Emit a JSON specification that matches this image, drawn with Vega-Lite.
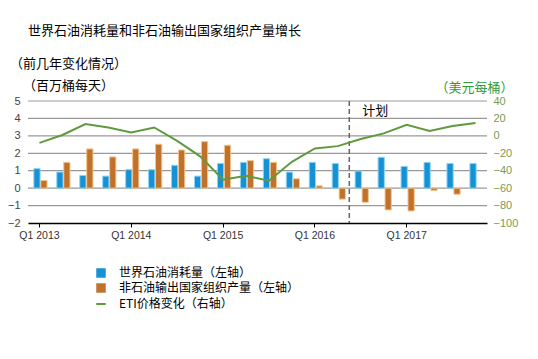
{
  "$schema": "https://vega.github.io/schema/vega-lite/v6.json",
  "width": 459,
  "height": 122,
  "autosize": {"type": "none"},
  "padding": {"left": 28, "top": 101, "right": 51, "bottom": 136},
  "background": "white",
  "config": {
    "view": {"stroke": null},
    "font": "Noto Sans CJK SC",
    "legend": {"labelFont": "Noto Sans CJK SC", "labelFontSize": 12, "labelColor": "#000", "rowPadding": 3, "labelOffset": 12, "padding": 0, "labelLimit": 400}
  },
  "title": {
    "text": "世界石油消耗量和非石油输出国家组织产量增长",
    "anchor": "start",
    "frame": "group",
    "offset": 19,
    "font": "Noto Sans CJK SC",
    "fontSize": 13,
    "fontWeight": "normal",
    "color": "#000"
  },
  "datasets": {
    "bars": [
      {"q": "Q1 2013", "series": "世界石油消耗量（左轴）", "value": 1.12},
      {"q": "Q1 2013", "series": "非石油输出国家组织产量（左轴）", "value": 0.44},
      {"q": "Q2 2013", "series": "世界石油消耗量（左轴）", "value": 0.92},
      {"q": "Q2 2013", "series": "非石油输出国家组织产量（左轴）", "value": 1.48},
      {"q": "Q3 2013", "series": "世界石油消耗量（左轴）", "value": 0.73},
      {"q": "Q3 2013", "series": "非石油输出国家组织产量（左轴）", "value": 2.25},
      {"q": "Q4 2013", "series": "世界石油消耗量（左轴）", "value": 0.69},
      {"q": "Q4 2013", "series": "非石油输出国家组织产量（左轴）", "value": 1.79},
      {"q": "Q1 2014", "series": "世界石油消耗量（左轴）", "value": 1.06},
      {"q": "Q1 2014", "series": "非石油输出国家组织产量（左轴）", "value": 2.25},
      {"q": "Q2 2014", "series": "世界石油消耗量（左轴）", "value": 1.06},
      {"q": "Q2 2014", "series": "非石油输出国家组织产量（左轴）", "value": 2.52},
      {"q": "Q3 2014", "series": "世界石油消耗量（左轴）", "value": 1.31},
      {"q": "Q3 2014", "series": "非石油输出国家组织产量（左轴）", "value": 2.19},
      {"q": "Q4 2014", "series": "世界石油消耗量（左轴）", "value": 0.69},
      {"q": "Q4 2014", "series": "非石油输出国家组织产量（左轴）", "value": 2.67},
      {"q": "Q1 2015", "series": "世界石油消耗量（左轴）", "value": 1.42},
      {"q": "Q1 2015", "series": "非石油输出国家组织产量（左轴）", "value": 2.46},
      {"q": "Q2 2015", "series": "世界石油消耗量（左轴）", "value": 1.48},
      {"q": "Q2 2015", "series": "非石油输出国家组织产量（左轴）", "value": 1.58},
      {"q": "Q3 2015", "series": "世界石油消耗量（左轴）", "value": 1.69},
      {"q": "Q3 2015", "series": "非石油输出国家组织产量（左轴）", "value": 1.48},
      {"q": "Q4 2015", "series": "世界石油消耗量（左轴）", "value": 0.92},
      {"q": "Q4 2015", "series": "非石油输出国家组织产量（左轴）", "value": 0.54},
      {"q": "Q1 2016", "series": "世界石油消耗量（左轴）", "value": 1.48},
      {"q": "Q1 2016", "series": "非石油输出国家组织产量（左轴）", "value": 0.13},
      {"q": "Q2 2016", "series": "世界石油消耗量（左轴）", "value": 1.42},
      {"q": "Q2 2016", "series": "非石油输出国家组织产量（左轴）", "value": -0.63},
      {"q": "Q3 2016", "series": "世界石油消耗量（左轴）", "value": 0.98},
      {"q": "Q3 2016", "series": "非石油输出国家组织产量（左轴）", "value": -0.81},
      {"q": "Q4 2016", "series": "世界石油消耗量（左轴）", "value": 1.77},
      {"q": "Q4 2016", "series": "非石油输出国家组织产量（左轴）", "value": -1.25},
      {"q": "Q1 2017", "series": "世界石油消耗量（左轴）", "value": 1.25},
      {"q": "Q1 2017", "series": "非石油输出国家组织产量（左轴）", "value": -1.31},
      {"q": "Q2 2017", "series": "世界石油消耗量（左轴）", "value": 1.48},
      {"q": "Q2 2017", "series": "非石油输出国家组织产量（左轴）", "value": -0.13},
      {"q": "Q3 2017", "series": "世界石油消耗量（左轴）", "value": 1.42},
      {"q": "Q3 2017", "series": "非石油输出国家组织产量（左轴）", "value": -0.35},
      {"q": "Q4 2017", "series": "世界石油消耗量（左轴）", "value": 1.42}
    ],
    "eti": [
      {"q": "Q1 2013", "eti": -8},
      {"q": "Q2 2013", "eti": 1},
      {"q": "Q3 2013", "eti": 13.5},
      {"q": "Q4 2013", "eti": 9.6},
      {"q": "Q1 2014", "eti": 3.8},
      {"q": "Q2 2014", "eti": 9.6},
      {"q": "Q3 2014", "eti": -5.8},
      {"q": "Q4 2014", "eti": -23.5},
      {"q": "Q1 2015", "eti": -50.4},
      {"q": "Q2 2015", "eti": -45.8},
      {"q": "Q3 2015", "eti": -51.5},
      {"q": "Q4 2015", "eti": -29.8},
      {"q": "Q1 2016", "eti": -14.5},
      {"q": "Q2 2016", "eti": -11.8},
      {"q": "Q3 2016", "eti": -3.7},
      {"q": "Q4 2016", "eti": 2.8},
      {"q": "Q1 2017", "eti": 12.8},
      {"q": "Q2 2017", "eti": 5.5},
      {"q": "Q3 2017", "eti": 11.2},
      {"q": "Q4 2017", "eti": 14.7}
    ],
    "note": [
      {"q": "Q2 2016", "value": 4.45, "label": "计划"}
    ],
    "grid": [
      {"value": -1}, {"value": 0}, {"value": 1}, {"value": 2}, {"value": 3}, {"value": 4}, {"value": 5}
    ]
  },
  "layer": [
    {
      "encoding": {
        "y": {
          "field": "value",
          "type": "quantitative",
          "scale": {"domain": [-2, 5], "nice": false, "zero": false},
          "axis": {
            "title": ["（前几年变化情况）", "（百万桶每天）"],
            "titleAngle": 0,
            "titleAlign": "center",
            "titleBaseline": "alphabetic",
            "titleLineHeight": 22,
            "titleX": 40,
            "titleY": -34,
            "titleFont": "Noto Sans CJK SC",
            "titleFontSize": 13,
            "titleFontWeight": "normal",
            "titleColor": "#000",
            "values": [-2, -1, 0, 1, 2, 3, 4, 5],
            "grid": false,
            "domain": false,
            "ticks": false,
            "labelPadding": 8,
            "labelFont": "Liberation Sans",
            "labelFontSize": 11,
            "labelColor": "#444"
          }
        }
      },
      "layer": [
        {
          "data": {"name": "grid"},
          "mark": {"type": "rule", "color": "#999999", "strokeWidth": 1.2},
          "encoding": {}
        },
        {
          "data": {"name": "bars"},
          "mark": {"type": "bar", "strokeWidth": 1},
          "encoding": {
            "x": {
              "field": "q",
              "type": "ordinal",
              "sort": null,
              "scale": {
                "type": "band",
                "paddingInner": 0,
                "paddingOuter": 0,
                "domain": ["Q1 2013", "Q2 2013", "Q3 2013", "Q4 2013", "Q1 2014", "Q2 2014", "Q3 2014", "Q4 2014", "Q1 2015", "Q2 2015", "Q3 2015", "Q4 2015", "Q1 2016", "Q2 2016", "Q3 2016", "Q4 2016", "Q1 2017", "Q2 2017", "Q3 2017", "Q4 2017"]
              },
              "axis": {
                "title": null,
                "values": ["Q1 2013", "Q1 2014", "Q1 2015", "Q1 2016", "Q1 2017"],
                "bandPosition": 0.5,
                "labelAngle": 0,
                "domainColor": "#000",
                "domainWidth": 1.5,
                "tickColor": "#000",
                "tickSize": 4,
                "labelFont": "Liberation Sans",
                "labelFontSize": 10.5,
                "labelColor": "#333",
                "labelPadding": 3,
                "grid": false,
                "zindex": 1
              }
            },
            "xOffset": {
              "field": "series",
              "type": "nominal",
              "sort": null,
              "scale": {"domain": ["世界石油消耗量（左轴）", "非石油输出国家组织产量（左轴）"], "paddingInner": 0.1, "paddingOuter": 0.7, "align": 0.6}
            },
            "fill": {
              "field": "series",
              "type": "nominal",
              "sort": null,
              "scale": {"domain": ["世界石油消耗量（左轴）", "非石油输出国家组织产量（左轴）"], "range": ["#1592d6", "#c0722d"]},
              "legend": {"orient": "none", "legendX": 67, "legendY": 166, "title": null, "symbolType": "square", "symbolSize": 90, "symbolStrokeWidth": 0}
            },
            "stroke": {
              "field": "series",
              "type": "nominal",
              "sort": null,
              "scale": {"domain": ["世界石油消耗量（左轴）", "非石油输出国家组织产量（左轴）"], "range": ["#8fd4f6", "#f2c48e"]},
              "legend": null
            }
          }
        },
        {
          "data": {"name": "note"},
          "mark": {"type": "text", "align": "left", "baseline": "middle", "dx": 13, "font": "Noto Sans CJK SC", "fontSize": 13, "color": "#000"},
          "encoding": {
            "x": {"field": "q", "type": "ordinal", "bandPosition": 1},
            "text": {"field": "label"}
          }
        }
      ]
    },
    {
      "data": {"name": "note"},
      "mark": {"type": "rule", "color": "#666", "strokeDash": [5, 3], "strokeWidth": 1.5},
      "encoding": {
        "x": {"field": "q", "type": "ordinal", "bandPosition": 1}
      }
    },
    {
      "data": {"name": "eti"},
      "mark": {"type": "line", "strokeWidth": 2},
      "encoding": {
        "x": {"field": "q", "type": "ordinal"},
        "y": {
          "field": "eti",
          "type": "quantitative",
          "scale": {"domain": [-100, 40], "nice": false, "zero": false},
          "axis": {
            "orient": "right",
            "title": "（美元每桶）",
            "titleAngle": 0,
            "titleAlign": "left",
            "titleBaseline": "alphabetic",
            "titleX": -52,
            "titleY": -10,
            "titleFont": "Noto Sans CJK SC",
            "titleFontSize": 13,
            "titleFontWeight": "normal",
            "titleColor": "#2f9a3c",
            "values": [-100, -80, -60, -40, -20, 0, 20, 40],
            "grid": false,
            "domain": false,
            "ticks": false,
            "labelPadding": 6,
            "labelFont": "Liberation Sans",
            "labelFontSize": 11,
            "labelColor": "#7c9a55"
          }
        },
        "stroke": {
          "datum": "ETI价格变化（右轴）",
          "type": "nominal",
          "scale": {"domain": ["ETI价格变化（右轴）"], "range": ["#5f9b3e"]},
          "legend": {"orient": "none", "legendX": 67, "legendY": 197, "title": null, "symbolType": "stroke", "symbolSize": 90, "symbolStrokeWidth": 2}
        }
      }
    }
  ],
  "resolve": {"scale": {"y": "independent", "stroke": "independent"}}
}
